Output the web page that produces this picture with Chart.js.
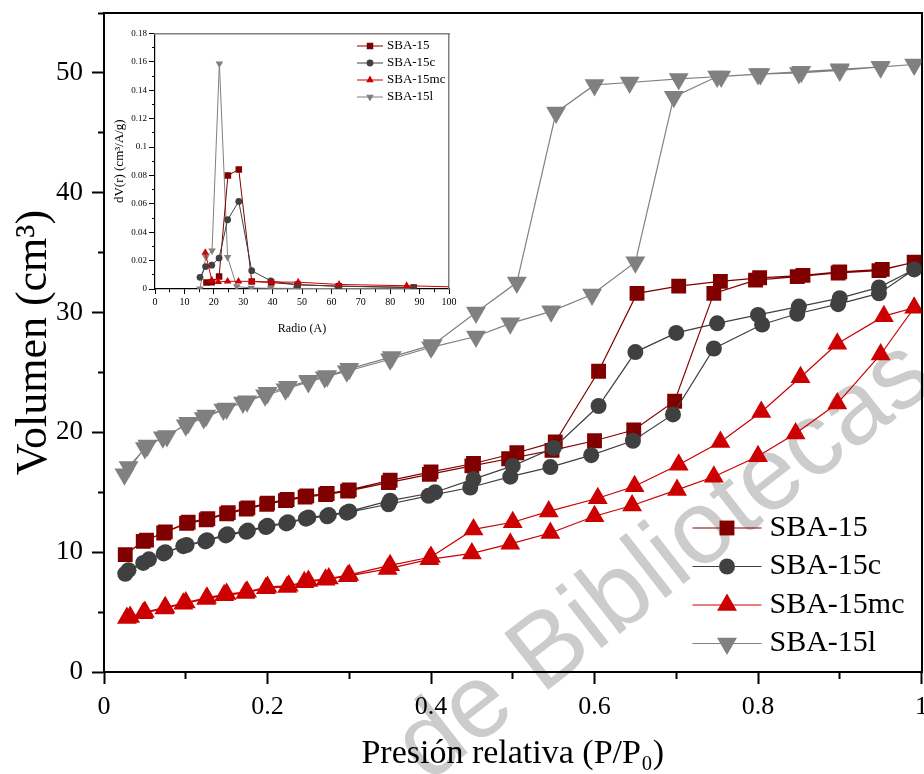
<!DOCTYPE html>
<html>
<head>
<meta charset="utf-8">
<script src="https://cdn.jsdelivr.net/npm/chart.js@4.4.1/dist/chart.umd.min.js"></script>
<style>
  html, body { margin: 0; padding: 0; background: #fff; }
  #wrap { position: relative; width: 924px; height: 774px; }
  #main { position: absolute; left: 0; top: 0; }
  #inset { position: absolute; left: 100px; top: 20px; }
</style>
</head>
<body>
<div id="wrap">
  <canvas id="main" width="924" height="774"></canvas>
  <canvas id="inset" width="360" height="320"></canvas>
</div>
<script>
// ---- isotherms: relative pressure (P/P0) and adsorbed volume (cm3) ----
// adsorption branch
const sba15AdsP = [0.026, 0.048, 0.073, 0.101, 0.125, 0.150, 0.174, 0.199, 0.222, 0.246, 0.271, 0.298, 0.348, 0.398, 0.450, 0.495, 0.548, 0.600, 0.648, 0.698, 0.746, 0.797, 0.848, 0.898, 0.948, 0.991];
const sba15AdsV = [9.8, 10.9, 11.6, 12.4, 12.7, 13.2, 13.6, 14.0, 14.3, 14.6, 14.8, 15.1, 15.8, 16.5, 17.2, 17.8, 18.5, 19.3, 20.2, 22.6, 31.6, 32.7, 33.0, 33.3, 33.5, 34.2];
// desorption branch
const sba15DesP = [0.952, 0.900, 0.855, 0.802, 0.754, 0.703, 0.652, 0.605, 0.552, 0.505, 0.452, 0.400, 0.350, 0.300, 0.273, 0.248, 0.224, 0.200, 0.176, 0.152, 0.127, 0.103, 0.075, 0.052];
const sba15DesV = [33.6, 33.4, 33.1, 32.9, 32.6, 32.2, 31.6, 25.1, 19.2, 18.3, 17.4, 16.7, 16.0, 15.2, 14.9, 14.7, 14.4, 14.1, 13.7, 13.3, 12.8, 12.5, 11.7, 11.0];

const sba15cAdsP = [0.026, 0.048, 0.073, 0.097, 0.124, 0.149, 0.174, 0.198, 0.223, 0.247, 0.273, 0.297, 0.348, 0.397, 0.448, 0.497, 0.546, 0.596, 0.647, 0.696, 0.746, 0.805, 0.848, 0.898, 0.948, 0.991];
const sba15cAdsV = [8.2, 9.1, 9.9, 10.5, 10.9, 11.4, 11.7, 12.1, 12.4, 12.8, 13.0, 13.3, 14.0, 14.7, 15.4, 16.3, 17.1, 18.1, 19.3, 21.5, 27.0, 29.0, 29.9, 30.7, 31.6, 33.6];
const sba15cDesP = [0.948, 0.900, 0.850, 0.800, 0.750, 0.700, 0.650, 0.605, 0.550, 0.500, 0.452, 0.405, 0.350, 0.300, 0.275, 0.250, 0.225, 0.200, 0.176, 0.151, 0.126, 0.101, 0.075, 0.055, 0.030];
const sba15cDesV = [32.1, 31.2, 30.5, 29.8, 29.1, 28.3, 26.7, 22.2, 18.7, 17.2, 16.1, 15.0, 14.3, 13.4, 13.1, 12.9, 12.5, 12.2, 11.8, 11.5, 11.0, 10.6, 10.0, 9.4, 8.5];

const sba15mcAdsP = [0.028, 0.048, 0.074, 0.097, 0.125, 0.147, 0.173, 0.198, 0.224, 0.245, 0.271, 0.298, 0.347, 0.398, 0.450, 0.497, 0.546, 0.600, 0.646, 0.701, 0.746, 0.800, 0.846, 0.897, 0.950, 0.991];
const sba15mcAdsV = [4.5, 4.9, 5.3, 5.7, 6.1, 6.4, 6.6, 7.0, 7.1, 7.5, 7.7, 8.0, 8.6, 9.4, 9.9, 10.7, 11.6, 13.0, 13.9, 15.2, 16.3, 18.0, 19.9, 22.4, 26.5, 30.4];
const sba15mcDesP = [0.954, 0.897, 0.852, 0.804, 0.754, 0.703, 0.649, 0.604, 0.544, 0.500, 0.452, 0.400, 0.350, 0.300, 0.275, 0.250, 0.226, 0.200, 0.175, 0.150, 0.126, 0.100, 0.075, 0.050, 0.032];
const sba15mcDesV = [29.7, 27.4, 24.6, 21.7, 19.2, 17.3, 15.5, 14.5, 13.4, 12.5, 11.9, 9.6, 8.9, 8.1, 7.8, 7.6, 7.2, 7.1, 6.7, 6.5, 6.2, 5.8, 5.4, 5.0, 4.6];

const sba15lAdsP = [0.025, 0.050, 0.072, 0.100, 0.122, 0.146, 0.170, 0.197, 0.222, 0.250, 0.270, 0.297, 0.350, 0.400, 0.455, 0.497, 0.547, 0.597, 0.650, 0.697, 0.750, 0.800, 0.850, 0.900, 0.950, 0.991];
const sba15lAdsV = [16.5, 18.7, 19.6, 20.6, 21.2, 21.9, 22.5, 23.1, 23.6, 24.2, 24.6, 25.1, 26.1, 27.1, 28.0, 29.1, 30.1, 31.5, 34.2, 48.0, 49.7, 49.9, 50.0, 50.2, 50.5, 50.7];
const sba15lDesP = [0.950, 0.900, 0.853, 0.803, 0.755, 0.703, 0.643, 0.600, 0.553, 0.505, 0.455, 0.402, 0.352, 0.300, 0.273, 0.250, 0.225, 0.200, 0.175, 0.150, 0.125, 0.103, 0.077, 0.053, 0.030];
const sba15lDesV = [50.5, 50.3, 50.1, 49.9, 49.7, 49.5, 49.2, 49.0, 46.7, 32.5, 30.0, 27.3, 26.3, 25.3, 24.7, 24.3, 23.8, 23.3, 22.6, 22.0, 21.4, 20.8, 19.7, 18.9, 17.1];

// ---- inset: pore size distribution, radius (A) and dV(r) ----
const psdSba15R = [17.5, 19.3, 21.8, 24.8, 28.5, 32.9, 39.5, 48.5, 62.5, 88];
const psdSba15D = [0.0046, 0.0047, 0.0088, 0.080, 0.0842, 0.0053, 0.0046, 0.003, 0.002, 0.001];
const psdSba15cR = [15.3, 17.2, 19.3, 21.8, 24.7, 28.5, 32.9, 39.4, 48.4, 62.6, 87.9];
const psdSba15cD = [0.0082, 0.0158, 0.0168, 0.0218, 0.0488, 0.0617, 0.0129, 0.0057, 0.003, 0.002, 0.0012];
const psdSba15mcR = [17.1, 19.3, 21.5, 24.7, 28.4, 32.9, 39.7, 48.7, 62.6, 85.6, 115];
const psdSba15mcD = [0.0256, 0.0063, 0.0050, 0.0054, 0.0054, 0.0054, 0.0049, 0.0048, 0.0032, 0.0023, 0.0008];
const psdSba15lR = [15.3, 17.3, 19.4, 21.9, 24.7, 27.8, 32.7, 39.4, 48, 62, 88];
const psdSba15lD = [0.0002, 0.0226, 0.0270, 0.1588, 0.0224, 0.0018, 0.0007, 0.0005, 0.0004, 0.0003, 0.0002];

const seriesNames = ['SBA-15', 'SBA-15c', 'SBA-15mc', 'SBA-15l'];
const seriesColors = ['#800000', '#404040', '#cc0000', '#808080'];

const serif = '"Liberation Serif", "Times New Roman", serif';
Chart.defaults.font.family = serif;
Chart.defaults.color = '#000';

const pts = (xs, ys) => xs.map((x, i) => ({ x: x, y: ys[i] }));

// legend drawn inside the plot box
const boxLegend = {
  id: 'boxLegend',
  afterDatasetsDraw(chart, args, o) {
    if (!o || !o.font) return;
    const { ctx, chartArea } = chart;
    ctx.save();
    ctx.font = o.font;
    ctx.textBaseline = 'middle';
    chart.data.datasets.forEach((ds, i) => {
      const y = chartArea.top + o.top + i * o.gap;
      const x0 = chartArea.right - o.right;
      ctx.strokeStyle = ds.borderColor;
      ctx.lineWidth = ds.borderWidth;
      ctx.beginPath();
      ctx.moveTo(x0, y);
      ctx.lineTo(x0 + o.line, y);
      ctx.stroke();
      ctx.fillStyle = ds.backgroundColor;
      Chart.helpers.drawPoint(ctx, {
        pointStyle: ds.pointStyle, rotation: ds.pointRotation || 0,
        radius: ds.pointRadius, borderWidth: 0
      }, x0 + o.line / 2, y);
      ctx.fillStyle = '#000';
      ctx.fillText(ds.label, x0 + o.line + o.pad, y);
    });
    ctx.restore();
  }
};

const watermark = {
  id: 'watermark',
  beforeDraw(chart, args, o) {
    if (!o || !o.text) return;
    const ctx = chart.ctx;
    ctx.save();
    ctx.translate(o.x, o.y);
    ctx.rotate(o.angle * Math.PI / 180);
    ctx.font = o.font;
    ctx.fillStyle = o.color;
    ctx.textAlign = 'center';
    ctx.textBaseline = 'middle';
    ctx.fillText(o.text, 0, 0);
    ctx.restore();
  }
};

// fixed axis boxes, no label overhang padding
const fixX = h => s => { s.height = h; s.paddingLeft = 0; s.paddingRight = 0; };
const fixY = w => s => { s.width = w; s.paddingTop = 0; s.paddingBottom = 0; };

const mainStyles = [
  { pointStyle: 'rect', pointRadius: 10.5, pointRotation: 0 },
  { pointStyle: 'circle', pointRadius: 8, pointRotation: 0 },
  { pointStyle: 'triangle', pointRadius: 11.5, pointRotation: 0 },
  { pointStyle: 'triangle', pointRadius: 11.5, pointRotation: 180 }
];
const mainData = [
  pts(sba15AdsP, sba15AdsV).concat(pts(sba15DesP, sba15DesV)),
  pts(sba15cAdsP, sba15cAdsV).concat(pts(sba15cDesP, sba15cDesV)),
  pts(sba15mcAdsP, sba15mcAdsV).concat(pts(sba15mcDesP, sba15mcDesV)),
  pts(sba15lAdsP, sba15lAdsV).concat(pts(sba15lDesP, sba15lDesV))
];
// draw order: gray first so the others sit on top
const drawOrder = [3, 0, 1, 2];

const majorX = v => Math.round(v * 10) % 2 === 0;
const majorY = v => Math.round(v) % 10 === 0;

new Chart(document.getElementById('main'), {
  type: 'scatter',
  data: {
    datasets: seriesNames.map((name, i) => Object.assign({
      label: name,
      data: mainData[i],
      showLine: true,
      borderColor: seriesColors[i],
      backgroundColor: seriesColors[i],
      borderWidth: 1.2,
      pointBorderWidth: 0,
      pointHoverRadius: mainStyles[i].pointRadius,
      order: drawOrder.indexOf(i) * -1
    }, mainStyles[i]))
  },
  options: {
    responsive: false,
    animation: false,
    layout: { autoPadding: false, padding: { top: 13, right: 2.5, left: 0, bottom: 0 } },
    plugins: {
      legend: { display: false },
      tooltip: { enabled: false },
      boxLegend: { font: '30px ' + serif, top: 515, gap: 38.5, right: 229, line: 69, pad: 8 },
      watermark: { text: 'de Bibliotecas', x: 665, y: 562, angle: -38, font: '104px "Liberation Sans", Arial, sans-serif', color: '#cccccc' }
    },
    scales: {
      x: {
        type: 'linear', position: 'bottom', min: 0, max: 1,
        afterFit: fixX(102),
        ticks: {
          stepSize: 0.1, autoSkip: false, maxRotation: 0, padding: 8,
          font: { size: 26 }, color: '#000',
          callback: v => majorX(v) ? String(Math.round(v * 10) / 10) : ''
        },
        grid: {
          drawOnChartArea: false, drawTicks: true, tickLength: 12, tickWidth: 2, tickColor: '#000',
          tickBorderDash: c => (c.tick && majorX(c.tick.value)) ? [] : [6, 40]
        },
        border: { display: true, color: '#000', width: 2 },
        title: { display: true, text: 'Presión relativa (P/P₀)', font: { size: 34 }, color: '#000', padding: { top: 0, bottom: 0 } }
      },
      y: {
        type: 'linear', position: 'left', min: 0, max: 55,
        afterFit: fixY(104),
        ticks: {
          stepSize: 5, autoSkip: false, padding: 9,
          font: { size: 27 }, color: '#000',
          callback: v => majorY(v) ? String(v) : ''
        },
        grid: {
          drawOnChartArea: false, drawTicks: true, tickLength: 12, tickWidth: 2, tickColor: '#000',
          tickBorderDash: c => (c.tick && majorY(c.tick.value)) ? [] : [0, 6, 6, 40]
        },
        border: { display: true, color: '#000', width: 2 },
        title: { display: true, text: 'Volumen (cm³)', font: { size: 44 }, color: '#000', padding: { top: 8, bottom: 0 } }
      },
      x2: {
        type: 'linear', position: 'top', min: 0, max: 1,
        afterFit: fixX(0),
        ticks: { display: false },
        grid: { display: false, drawTicks: false },
        border: { display: true, color: '#000', width: 2 }
      },
      y2: {
        type: 'linear', position: 'right', min: 0, max: 55,
        afterFit: fixY(0),
        ticks: { display: false },
        grid: { display: false, drawTicks: false },
        border: { display: true, color: '#000', width: 2 }
      }
    }
  },
  plugins: [boxLegend, watermark]
});

// ---- inset chart ----
const insetStyles = [
  { pointStyle: 'rect', pointRadius: 4.6, pointRotation: 0 },
  { pointStyle: 'circle', pointRadius: 3.4, pointRotation: 0 },
  { pointStyle: 'triangle', pointRadius: 4.4, pointRotation: 0 },
  { pointStyle: 'triangle', pointRadius: 4.4, pointRotation: 180 }
];
const insetData = [
  pts(psdSba15R, psdSba15D),
  pts(psdSba15cR, psdSba15cD),
  pts(psdSba15mcR, psdSba15mcD),
  pts(psdSba15lR, psdSba15lD)
];
const majorR = v => Math.round(v) % 10 === 0;
const majorD = v => Math.round(v * 100) % 2 === 0;

new Chart(document.getElementById('inset'), {
  type: 'scatter',
  data: {
    datasets: seriesNames.map((name, i) => Object.assign({
      label: name,
      data: insetData[i],
      showLine: true,
      borderColor: seriesColors[i],
      backgroundColor: seriesColors[i],
      borderWidth: 1,
      pointBorderWidth: 0,
      order: drawOrder.indexOf(i) * -1
    }, insetStyles[i]))
  },
  options: {
    responsive: false,
    animation: false,
    layout: { autoPadding: false, padding: { top: 13.5, right: 11, left: 0, bottom: 0 } },
    plugins: {
      legend: { display: false },
      tooltip: { enabled: false },
      boxLegend: { font: '13px ' + serif, top: 12.5, gap: 17, right: 92, line: 26, pad: 4 }
    },
    scales: {
      x: {
        type: 'linear', position: 'bottom', min: 0, max: 100,
        afterFit: fixX(51),
        ticks: {
          stepSize: 5, autoSkip: false, maxRotation: 0, padding: 2,
          font: { size: 10 }, color: '#000',
          callback: v => majorR(v) ? String(v) : ''
        },
        grid: {
          drawOnChartArea: false, drawTicks: true, tickLength: 5, tickWidth: 1, tickColor: '#000',
          tickBorderDash: c => (c.tick && majorR(c.tick.value)) ? [] : [3, 20]
        },
        border: { display: true, color: '#000', width: 1.2 },
        title: { display: true, text: 'Radio (A)', font: { size: 12 }, color: '#000', padding: { top: 4, bottom: 4 } }
      },
      y: {
        type: 'linear', position: 'left', min: 0, max: 0.18,
        afterFit: fixY(55),
        ticks: {
          stepSize: 0.01, autoSkip: false, padding: 2,
          font: { size: 9 }, color: '#000',
          callback: v => majorD(v) ? String(Math.round(v * 100) / 100) : ''
        },
        grid: {
          drawOnChartArea: false, drawTicks: true, tickLength: 6, tickWidth: 1, tickColor: '#000',
          tickBorderDash: c => (c.tick && majorD(c.tick.value)) ? [] : [0, 3, 3, 20]
        },
        border: { display: true, color: '#000', width: 1.2 },
        title: { display: true, text: 'dV(r) (cm³/A/g)', font: { size: 13 }, color: '#000', padding: { top: 12, bottom: 0 } }
      },
      x2: {
        type: 'linear', position: 'top', min: 0, max: 100,
        afterFit: fixX(0),
        ticks: { display: false },
        grid: { display: false, drawTicks: false },
        border: { display: true, color: '#808080', width: 1.5 }
      },
      y2: {
        type: 'linear', position: 'right', min: 0, max: 0.18,
        afterFit: fixY(0),
        ticks: { display: false },
        grid: { display: false, drawTicks: false },
        border: { display: true, color: '#808080', width: 1.5 }
      }
    }
  },
  plugins: [boxLegend]
});
</script>
</body>
</html>
